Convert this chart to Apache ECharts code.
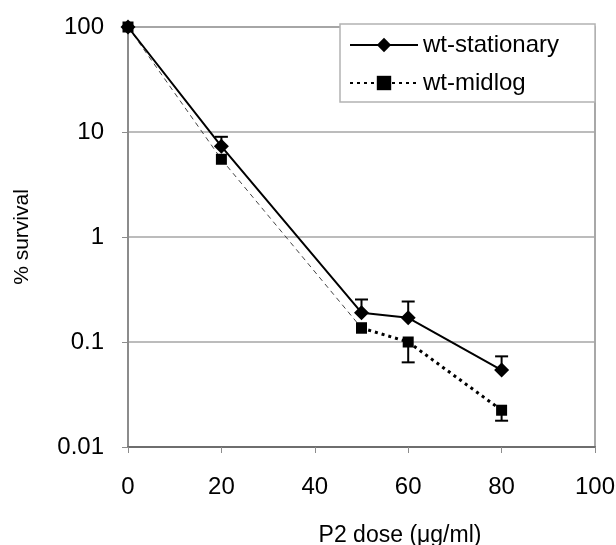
<!DOCTYPE html>
<html>
<head>
<meta charset="utf-8">
<script src="https://cdn.jsdelivr.net/npm/echarts@6/dist/echarts.min.js"></script>
<style>
html,body{margin:0;padding:0;background:#fff;}
#chart{width:616px;height:545px;}
</style>
</head>
<body>
<div id="chart"></div>
<script>
// ---- data ----
var doses = [0, 20, 50, 60, 80];
var stationary = [100, 7.3, 0.19, 0.17, 0.054];
var stationaryUpper = [null, 9.0, 0.254, 0.243, 0.073];
var midlog = [100, 5.5, 0.136, 0.1, 0.0224];
var midlogLower = [null, null, null, 0.064, 0.0178];
var xTicks = [0, 20, 40, 60, 80, 100];
var yTicks = [0.01, 0.1, 1, 10, 100];

function pairs(xs, ys) {
  var out = [];
  for (var i = 0; i < xs.length; i++) out.push([xs[i], ys[i]]);
  return out;
}
function errPairs(xs, ys, es) {
  var out = [];
  for (var i = 0; i < xs.length; i++) if (es[i] != null) out.push([xs[i], ys[i], es[i]]);
  return out;
}
var statPts = pairs(doses, stationary);
var midPts = pairs(doses, midlog);
var FONT = 'Liberation Sans, Arial, sans-serif';

function errRender(params, api) {
  var x = api.value(0), y = api.value(1), e = api.value(2);
  var p0 = api.coord([x, y]);
  var p1 = api.coord([x, e]);
  var hw = 6.5;
  return {
    type: 'group',
    children: [
      { type: 'line', shape: { x1: p0[0], y1: p0[1], x2: p1[0], y2: p1[1] }, style: { stroke: '#000', lineWidth: 2 } },
      { type: 'line', shape: { x1: p1[0] - hw, y1: p1[1], x2: p1[0] + hw, y2: p1[1] }, style: { stroke: '#000', lineWidth: 2 } }
    ]
  };
}

var chart = echarts.init(document.getElementById('chart'), null, { renderer: 'canvas' });
chart.setOption({
  animation: false,
  backgroundColor: '#fff',
  textStyle: { fontFamily: FONT },
  grid: { left: 128, right: 21, top: 27, bottom: 98, containLabel: false, outerBoundsMode: 'none',
    show: true, borderColor: '#8c8c8c', borderWidth: 1.5, backgroundColor: 'transparent' },
  xAxis: {
    type: 'value', min: xTicks[0], max: xTicks[xTicks.length - 1], interval: 20,
    name: 'P2 dose (μg/ml)', nameLocation: 'middle', nameGap: 77,
    nameTextStyle: { fontSize: 23, color: '#000', fontFamily: FONT, padding: [0, 0, 0, 77] },
    axisLine: { show: true, lineStyle: { color: '#6e6e6e', width: 2 } },
    axisTick: { show: true, inside: false, length: 6, lineStyle: { color: '#8c8c8c', width: 1 } },
    axisLabel: { fontSize: 24, color: '#000', margin: 28, fontFamily: FONT },
    splitLine: { show: false }
  },
  yAxis: {
    type: 'log', logBase: 10, min: yTicks[0], max: yTicks[yTicks.length - 1],
    name: '% survival', nameLocation: 'middle', nameGap: 95,
    nameTextStyle: { fontSize: 21, color: '#000', fontFamily: FONT },
    axisLine: { show: true, lineStyle: { color: '#8c8c8c', width: 2 } },
    axisTick: { show: true, inside: false, length: 6, lineStyle: { color: '#8c8c8c', width: 1 } },
    axisLabel: { fontSize: 24, color: '#000', margin: 24, fontFamily: FONT,
      formatter: function (v) { return String(+v.toPrecision(6)); } },
    splitLine: { show: true, lineStyle: { color: '#a6a6a6', width: 1.5 } },
    minorTick: { show: false }
  },
  legend: {
    left: 340, top: 24, orient: 'vertical',
    data: ['wt-stationary', 'wt-midlog'],
    itemWidth: 68, itemHeight: 18, itemGap: 14,
    padding: [9, 36, 7, 9],
    backgroundColor: '#fff', borderColor: '#b3b3b3', borderWidth: 1.5,
    textStyle: { fontSize: 24, color: '#000', fontFamily: FONT },
    z: 10
  },
  series: [
    {
      name: 'midlog-early', type: 'line', data: midPts.slice(0, 3),
      symbol: 'rect', symbolSize: 11, itemStyle: { color: '#000' },
      lineStyle: { color: '#444', width: 1, type: [5, 4] }, z: 2
    },
    {
      name: 'wt-midlog', type: 'line', data: midPts.slice(2),
      symbol: 'rect', symbolSize: 11, itemStyle: { color: '#000' },
      lineStyle: { color: '#000', width: 3, type: [3, 4] }, z: 3
    },
    {
      name: 'wt-stationary', type: 'line', data: statPts,
      symbol: 'diamond', symbolSize: 15, itemStyle: { color: '#000' },
      lineStyle: { color: '#000', width: 2, type: 'solid' }, z: 4
    },
    {
      name: 'err-stat', type: 'custom', renderItem: errRender,
      data: errPairs(doses, stationary, stationaryUpper), z: 5
    },
    {
      name: 'err-mid', type: 'custom', renderItem: errRender,
      data: errPairs(doses, midlog, midlogLower), z: 5
    }
  ]
});
</script>
</body>
</html>
